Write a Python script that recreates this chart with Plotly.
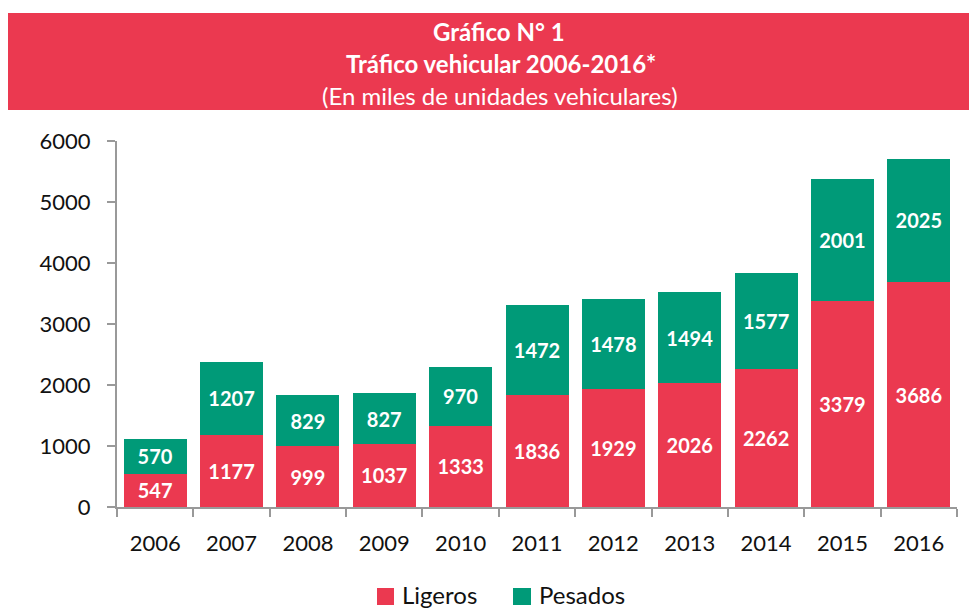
import plotly.graph_objects as go

years = ["2006", "2007", "2008", "2009", "2010", "2011", "2012", "2013", "2014", "2015", "2016"]
ligeros = [547, 1177, 999, 1037, 1333, 1836, 1929, 2026, 2262, 3379, 3686]
pesados = [570, 1207, 829, 827, 970, 1472, 1478, 1494, 1577, 2001, 2025]
series_names = ["Ligeros", "Pesados"]

RED = "#EB3950"
GREEN = "#009A78"
FONT = "Lato"

OFF = 8  # page body margin
W, H = 977 - OFF, 610 - OFF
# reference pixel positions
ref_left, ref_right, ref_top, ref_bottom = 117, 957, 141, 507
L = ref_left - OFF
T = ref_top - OFF
R = W - (ref_right - OFF)
B = H - (ref_bottom - OFF)
pw = W - L - R
ph = H - T - B

def px_x(x):
    return (x - OFF - L) / pw

def px_y(y):
    return ((ref_bottom - OFF) - (y - OFF)) / ph

fig = go.Figure()
for name, vals, col in [(series_names[0], ligeros, RED), (series_names[1], pesados, GREEN)]:
    fig.add_trace(go.Bar(
        x=years, y=vals, name=name, marker_color=col,
        text=vals, textposition="inside", insidetextanchor="middle",
        textfont=dict(color="white", size=20, family=FONT, weight="bold"),
        marker_line_width=0, showlegend=False,
    ))

fig.update_layout(
    barmode="stack",
    bargap=0.175,
    width=W, height=H,
    margin=dict(l=L, r=R, t=T, b=B, autoexpand=False),
    paper_bgcolor="white", plot_bgcolor="white",
    font=dict(family=FONT, color="#111111", size=22),
    showlegend=False,
    uniformtext=dict(minsize=18, mode="show"),
)
fig.update_yaxes(range=[0, 6000], tickvals=[0, 1000, 2000, 3000, 4000, 5000, 6000],
                 showgrid=False, showline=True, linecolor="#999999", linewidth=2,
                 ticks="outside", ticklen=8, tickcolor="#999999", tickwidth=2,
                 tickfont=dict(size=22), ticklabelstandoff=12, zeroline=False)
fig.update_xaxes(showline=True, linecolor="#999999", linewidth=2,
                 ticks="outside", tickson="boundaries", ticklen=8, tickcolor="#999999", tickwidth=2,
                 tickfont=dict(size=22), ticklabelstandoff=16, showgrid=False)

# title band
fig.add_shape(type="rect", xref="paper", yref="paper",
              x0=px_x(8), x1=px_x(977), y0=px_y(110), y1=px_y(13),
              fillcolor=RED, line_width=0, layer="above")

fig.add_annotation(xref="paper", yref="paper", x=px_x(499), y=px_y(31), yanchor="middle",
                   text="<b>Gráfico N° 1</b>", showarrow=False,
                   font=dict(size=24, color="white", family=FONT))
fig.add_annotation(xref="paper", yref="paper", x=px_x(501), y=px_y(63), yanchor="middle",
                   text="<b>Tráfico vehicular 2006-2016*</b>", showarrow=False,
                   font=dict(size=24, color="white", family=FONT))
fig.add_annotation(xref="paper", yref="paper", x=px_x(500), y=px_y(95), yanchor="middle",
                   text="(En miles de unidades vehiculares)", showarrow=False,
                   font=dict(size=24, color="white", family=FONT))

# legend (drawn manually for larger swatches)
for name, col, sx0, sx1, tx in [(series_names[0], RED, 377, 394, 400),
                                (series_names[1], GREEN, 513, 531, 537)]:
    fig.add_shape(type="rect", xref="paper", yref="paper",
                  x0=px_x(sx0), x1=px_x(sx1), y0=px_y(605), y1=px_y(588),
                  fillcolor=col, line_width=0)
    fig.add_annotation(xref="paper", yref="paper", x=px_x(tx), y=px_y(594),
                       xanchor="left", yanchor="middle", text=name, showarrow=False,
                       font=dict(size=24, color="#111111", family=FONT))

fig.write_html("out.html")
